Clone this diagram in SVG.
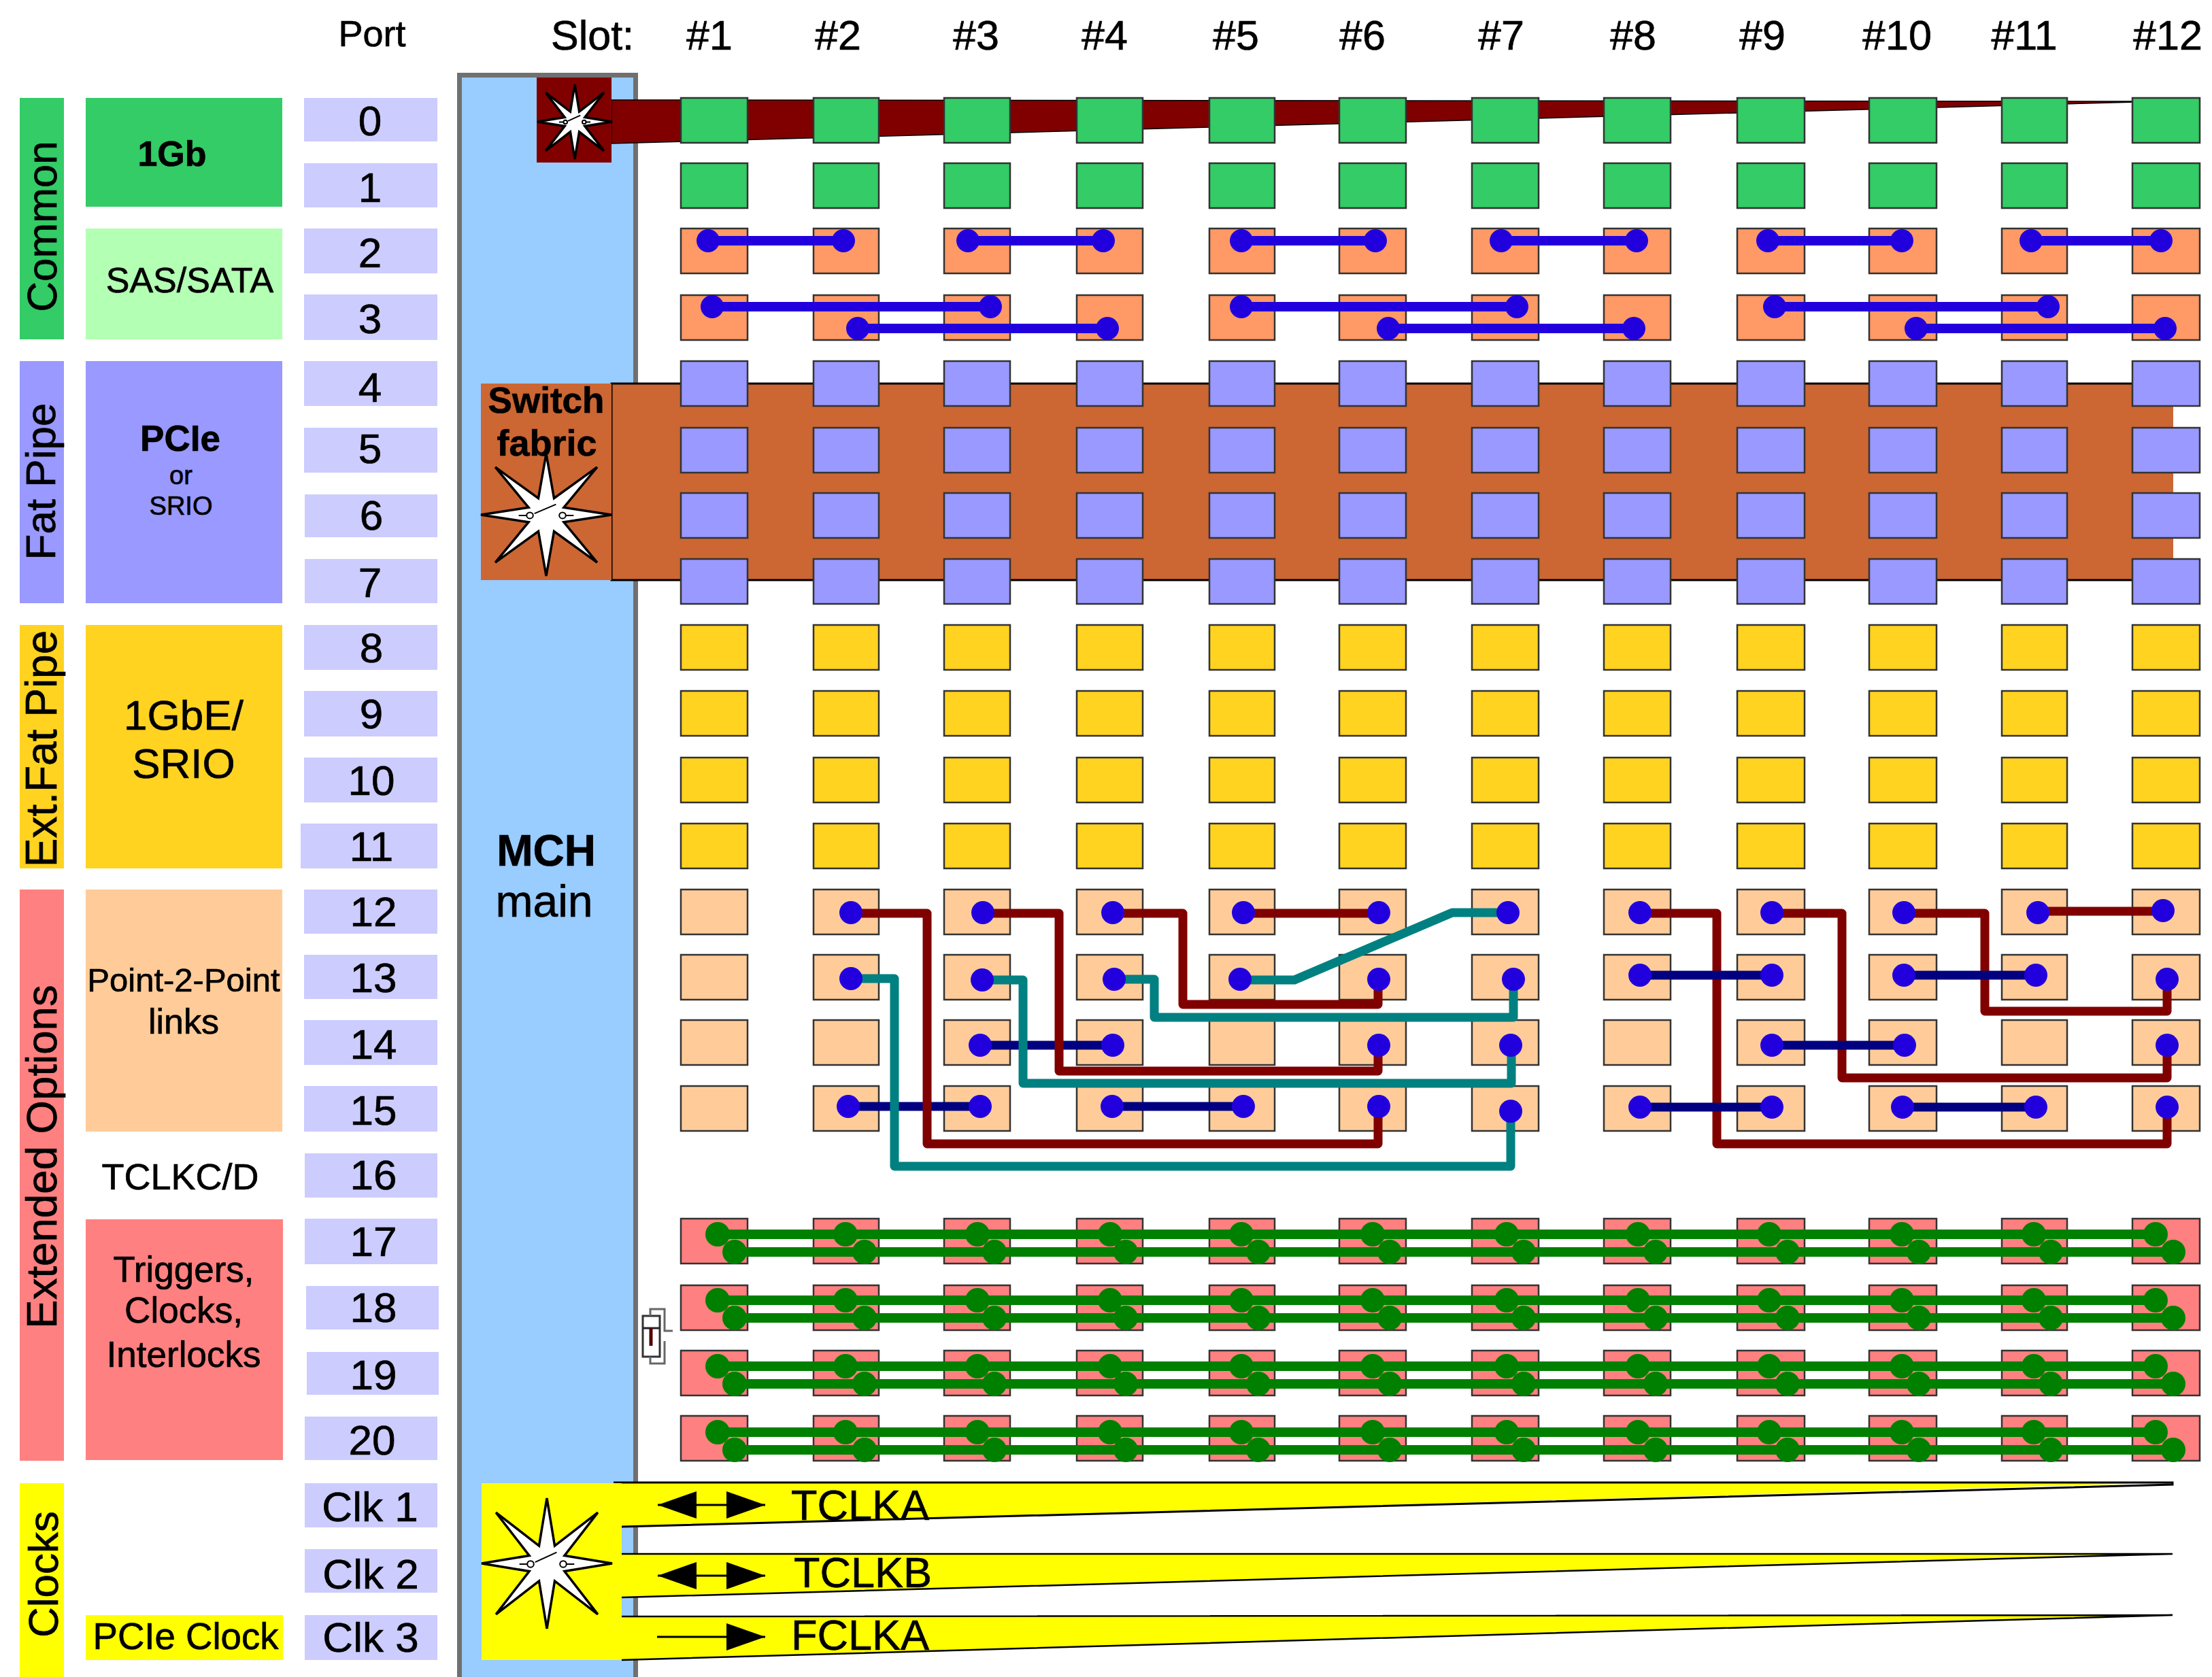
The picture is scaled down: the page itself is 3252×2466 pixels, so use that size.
<svg xmlns="http://www.w3.org/2000/svg" width="3252" height="2466" viewBox="0 0 3252 2466">
<style>
text{font-family:"Liberation Sans",Arial,sans-serif;fill:#000;stroke:#000;stroke-width:.7}
.m{text-anchor:middle}
.b{font-weight:bold}
.p{font-size:62px;text-anchor:middle}
.s{font-size:61px;text-anchor:middle}
.v{font-size:62px;text-anchor:middle}
.port{fill:#ccccff}
.green{fill:#33cc66}.sas{fill:#ff9966}.peri{fill:#9999ff}.gold{fill:#ffd320}.peach{fill:#ffcc99}.pink{fill:#ff8080}
.star{fill:#fff;stroke:#000;stroke-width:3.500;vector-effect:non-scaling-stroke}
.sw{fill:none;stroke:#000;stroke-width:2;vector-effect:non-scaling-stroke}
.w{fill:none;stroke-linejoin:round;stroke-width:13}
.mar{stroke:#800000}.teal{stroke:#008080}.navy{stroke:#000080}.blue{stroke:#2200dd;stroke-width:14}.grn{stroke:#008000;stroke-width:14}
.bd{fill:#2200dd}.gd{fill:#008000}
.edge{fill:none;stroke:#000;stroke-width:3}
.arrow{stroke:#000;stroke-width:3;marker-start:url(#head);marker-end:url(#head)}
.arrow1{stroke:#000;stroke-width:3;marker-end:url(#head)}
</style>
<defs>
<marker id="head" markerUnits="userSpaceOnUse" markerWidth="57" markerHeight="40" refX="57" refY="20" orient="auto-start-reverse"><path d="M0 0L57 20L0 40z" fill="#000"/></marker>
<g id="star">
<polygon class="star" points="100,0 27,-12 78,-78 12,-27 0,-100 -12,-27 -78,-78 -27,-12 -100,0 -27,12 -78,78 -12,27 0,100 12,27 78,78 27,12"/>
<path class="sw" d="M-42 1H-29M-18 -2L15 -17M29 1H42"/>
<circle class="sw" cx="-25" cy="1" r="5"/><circle class="sw" cx="25" cy="1" r="5"/>
</g>
<g id="cells" stroke="#333" stroke-width="2.500">
<rect x="1001" width="98" height="66"/><rect x="1196" width="96" height="66"/><rect x="1388" width="97" height="66"/><rect x="1583" width="97" height="66"/><rect x="1778" width="96" height="66"/><rect x="1969" width="98" height="66"/><rect x="2164" width="98" height="66"/><rect x="2358" width="98" height="66"/><rect x="2554" width="99" height="66"/><rect x="2748" width="99" height="66"/><rect x="2943" width="96" height="66"/><rect x="3135" width="99" height="66"/>
</g>
<g id="gwires">
<path class="w grn" d="M1055 0H3169M1080 26H3195"/>
<g class="gd"><circle cx="1055" r="18"/><circle cx="1243" r="18"/><circle cx="1437" r="18"/><circle cx="1632" r="18"/><circle cx="1825" r="18"/><circle cx="2018" r="18"/><circle cx="2215" r="18"/><circle cx="2408" r="18"/><circle cx="2601" r="18"/><circle cx="2796" r="18"/><circle cx="2990" r="18"/><circle cx="3169" r="18"/>
<circle cx="1080" cy="26" r="18"/><circle cx="1271" cy="26" r="18"/><circle cx="1462" cy="26" r="18"/><circle cx="1655" cy="26" r="18"/><circle cx="1850" cy="26" r="18"/><circle cx="2043" cy="26" r="18"/><circle cx="2240" cy="26" r="18"/><circle cx="2434" cy="26" r="18"/><circle cx="2628" cy="26" r="18"/><circle cx="2821" cy="26" r="18"/><circle cx="3015" cy="26" r="18"/><circle cx="3195" cy="26" r="18"/></g>
</g>
</defs>
<rect width="3252" height="2466" fill="#fff"/>

<g id="header">
<text x="547" y="68" font-size="54" class="m">Port</text>
<text x="871" y="73" font-size="61" class="m">Slot:</text>
<text x="1043" y="73" class="s">#1</text><text x="1232" y="73" class="s">#2</text><text x="1435" y="73" class="s">#3</text><text x="1624" y="73" class="s">#4</text><text x="1817" y="73" class="s">#5</text><text x="2003" y="73" class="s">#6</text><text x="2207" y="73" class="s">#7</text><text x="2401" y="73" class="s">#8</text><text x="2591" y="73" class="s">#9</text><text x="2789" y="73" class="s">#10</text><text x="2976" y="73" class="s">#11</text><text x="3187" y="73" class="s">#12</text>
</g>

<g id="group-common"><rect x="29" y="144" width="65" height="355" class="green"/><text class="v" transform="translate(83 333) rotate(-90)">Common</text></g>
<g id="group-fatpipe"><rect x="29" y="531" width="65" height="356" class="peri"/><text class="v" transform="translate(81 708) rotate(-90)">Fat Pipe</text></g>
<g id="group-extfatpipe"><rect x="29" y="919" width="65" height="358" class="gold"/><text class="v" style="font-size:64px" transform="translate(83 1101) rotate(-90)">Ext.Fat Pipe</text></g>
<g id="group-extended"><rect x="29" y="1308" width="65" height="840" class="pink"/><text class="v" style="font-size:63.6px" transform="translate(83 1701) rotate(-90)">Extended Options</text></g>
<g id="group-clocks"><rect x="29" y="2181" width="65" height="285" fill="#ffff00"/><text class="v" transform="translate(85 2315) rotate(-90)">Clocks</text></g>

<g id="type-1gb"><rect x="126" y="144" width="289" height="160" class="green"/><text x="253" y="244" font-size="52" class="m b">1Gb</text></g>
<g id="type-sas"><rect x="126" y="336" width="289" height="163" fill="#b3ffb3"/><text x="279" y="430" font-size="52" class="m">SAS/SATA</text></g>
<g id="type-pcie"><rect x="126" y="531" width="289" height="356" class="peri"/><text x="265" y="663" font-size="53" class="m b">PCIe</text><text x="266" y="712" font-size="38" class="m">or</text><text x="266" y="757" font-size="38" class="m">SRIO</text></g>
<g id="type-1gbe"><rect x="126" y="919" width="289" height="358" class="gold"/><text x="270" y="1073" font-size="62" class="m">1GbE/</text><text x="270" y="1144" font-size="62" class="m">SRIO</text></g>
<g id="type-p2p"><rect x="126" y="1308" width="289" height="356" class="peach"/><text x="270" y="1458" font-size="49" class="m">Point-2-Point</text><text x="270" y="1520" font-size="52" class="m">links</text></g>
<g id="type-tclkcd"><text x="265" y="1749" font-size="54" class="m">TCLKC/D</text></g>
<g id="type-triggers"><rect x="126" y="1793" width="290" height="354" class="pink"/><text x="270" y="1885" font-size="53" class="m">Triggers,</text><text x="270" y="1945" font-size="53" class="m">Clocks,</text><text x="270" y="2010" font-size="53" class="m">Interlocks</text></g>
<g id="type-pcieclock"><rect x="126" y="2375" width="290" height="66" fill="#ffff00"/><text x="273" y="2425" font-size="54.6" class="m">PCIe Clock</text></g>

<g id="ports">
<rect class="port" x="447" y="144" width="196" height="64"/><text class="p" x="544" y="199">0</text>
<rect class="port" x="447" y="240" width="196" height="65"/><text class="p" x="544" y="297">1</text>
<rect class="port" x="447" y="336" width="196" height="66"/><text class="p" x="544" y="393">2</text>
<rect class="port" x="447" y="433" width="196" height="67"/><text class="p" x="544" y="490">3</text>
<rect class="port" x="447" y="531" width="196" height="66"/><text class="p" x="544" y="591">4</text>
<rect class="port" x="447" y="629" width="196" height="66"/><text class="p" x="544" y="681">5</text>
<rect class="port" x="448" y="727" width="195" height="63"/><text class="p" x="546" y="779">6</text>
<rect class="port" x="448" y="822" width="195" height="65"/><text class="p" x="544" y="878">7</text>
<rect class="port" x="447" y="919" width="196" height="66"/><text class="p" x="546" y="974">8</text>
<rect class="port" x="447" y="1016" width="196" height="67"/><text class="p" x="546" y="1071">9</text>
<rect class="port" x="447" y="1114" width="196" height="66"/><text class="p" x="546" y="1169">10</text>
<rect class="port" x="442" y="1211" width="201" height="66"/><text class="p" x="546" y="1266">11</text>
<rect class="port" x="447" y="1308" width="196" height="65"/><text class="p" x="549" y="1362">12</text>
<rect class="port" x="447" y="1404" width="196" height="65"/><text class="p" x="549" y="1459">13</text>
<rect class="port" x="447" y="1500" width="196" height="66"/><text class="p" x="549" y="1557">14</text>
<rect class="port" x="447" y="1597" width="196" height="67"/><text class="p" x="549" y="1654">15</text>
<rect class="port" x="448" y="1696" width="195" height="65"/><text class="p" x="549" y="1749">16</text>
<rect class="port" x="448" y="1792" width="195" height="67"/><text class="p" x="549" y="1847">17</text>
<rect class="port" x="450" y="1891" width="195" height="64"/><text class="p" x="549" y="1944">18</text>
<rect class="port" x="451" y="1988" width="194" height="63"/><text class="p" x="549" y="2043">19</text>
<rect class="port" x="448" y="2083" width="195" height="64"/><text class="p" x="547" y="2139">20</text>
<rect class="port" x="448" y="2181" width="195" height="65"/><text class="p" x="544" y="2237">Clk 1</text>
<rect class="port" x="448" y="2278" width="195" height="64"/><text class="p" x="545" y="2336">Clk 2</text>
<rect class="port" x="448" y="2375" width="195" height="66"/><text class="p" x="545" y="2429">Clk 3</text>
</g>

<g id="mch">
<path d="M675.500 2480V110.500H934.500V2480" fill="#99ccff" stroke="#707070" stroke-width="7"/>
<text x="803" y="1273" font-size="64" class="m b">MCH</text>
<text x="800" y="1348" font-size="66" class="m">main</text>
</g>

<g id="bus-1gb">
<polygon points="899,147 3180,149 899,211" fill="#800000" stroke="#000" stroke-width="1.500"/>
<rect x="789" y="114" width="110" height="125" fill="#800000"/>
<use href="#star" transform="translate(845 179) scale(.55)"/>
</g>

<g id="switch-fabric">
<rect x="899" y="564" width="2296" height="289" fill="#cc6633"/>
<path d="M3135 564H899V853H3135" class="edge"/>
<rect x="707" y="564" width="192" height="289" fill="#cc6633"/>
<use href="#star" transform="translate(803 757) scale(.96 .9)"/>
<text x="803" y="607" font-size="53" class="m b">Switch</text>
<text x="804" y="670" font-size="54" class="m b">fabric</text>
</g>

<g id="clock-bus">
<polygon points="902,2180 3194,2180 914,2245" fill="#ffff00"/><path d="M902 2180H3194V2183L914 2245" class="edge"/>
<polygon points="914,2285 3194,2285 914,2349" fill="#ffff00"/><path d="M914 2285H3194L914 2349" class="edge" style="stroke-width:2.500"/>
<polygon points="914,2377 3194,2375 914,2441" fill="#ffff00"/><path d="M914 2377L3194 2375L914 2441" class="edge" style="stroke-width:2.500"/>
<rect x="708" y="2181" width="206" height="260" fill="#ffff00"/>
<use href="#star" transform="translate(804 2299) scale(.96)"/>
<line class="arrow" x1="967" y1="2213" x2="1125" y2="2213"/>
<line class="arrow" x1="967" y1="2317" x2="1125" y2="2317"/>
<line class="arrow1" x1="966" y1="2407" x2="1125" y2="2407"/>
<text x="1163" y="2235" font-size="63">TCLKA</text>
<text x="1167" y="2334" font-size="63">TCLKB</text>
<text x="1163" y="2426" font-size="63">FCLKA</text>
</g>

<g id="slot-cells">
<g id="row-0" class="green"><use href="#cells" y="144"/></g>
<g id="row-1" class="green"><use href="#cells" y="240"/></g>
<g id="row-2" class="sas"><use href="#cells" y="336"/></g>
<g id="row-3" class="sas"><use href="#cells" y="434"/></g>
<g id="row-4" class="peri"><use href="#cells" y="531"/></g>
<g id="row-5" class="peri"><use href="#cells" y="629"/></g>
<g id="row-6" class="peri"><use href="#cells" y="725"/></g>
<g id="row-7" class="peri"><use href="#cells" y="822"/></g>
<g id="row-8" class="gold"><use href="#cells" y="919"/></g>
<g id="row-9" class="gold"><use href="#cells" y="1016"/></g>
<g id="row-10" class="gold"><use href="#cells" y="1114"/></g>
<g id="row-11" class="gold"><use href="#cells" y="1211"/></g>
<g id="row-12" class="peach"><use href="#cells" y="1308"/></g>
<g id="row-13" class="peach"><use href="#cells" y="1404"/></g>
<g id="row-14" class="peach"><use href="#cells" y="1500"/></g>
<g id="row-15" class="peach"><use href="#cells" y="1597"/></g>
<g id="row-17" class="pink"><use href="#cells" y="1792"/></g>
<g id="row-18" class="pink"><use href="#cells" y="1890"/></g>
<g id="row-19" class="pink"><use href="#cells" y="1986"/></g>
<g id="row-20" class="pink"><use href="#cells" y="2082"/></g>
</g>

<g id="terminator" fill="none" stroke="#666" stroke-width="3">
<rect x="945" y="1935" width="25" height="60" fill="#fff" stroke="#333"/>
<path d="M956 1935V1925H977V1957H989M977 1972V2005H956V1995"/>
<path d="M945 1953H970" stroke="#223"/>
<path d="M957 1953V1979" stroke="#500" stroke-width="5"/>
</g>

<g id="connectors">
<path class="w blue" d="M1041 354H1240M1423 354H1622M1825 354H2022M2207 354H2406M2599 354H2796M2986 354H3177M1047 451H1456M1825 451H2230M2609 451H3011M1261 483H1628M2041 483H2402M2817 483H3183"/>
<path class="w navy" d="M1441 1537H1636M1247 1627H1441M1635 1627H1828"/>
<path class="w mar" d="M1251 1343H1363V1682H2026V1627M1445 1343H1557V1575H2026V1537M1636 1343H1739V1477H2026V1440M1828 1343H2027M2411 1343H2524V1682H3186V1628M2605 1343H2708V1585H3186V1537M2799 1343H2918V1487H3186V1440M2996 1340H3180"/>
<path class="w teal" d="M1251 1439H1315V1715H2221V1634M1444 1441H1504V1593H2222V1537M1638 1440H1697V1496H2225V1440M1823 1441H1903L2135 1342H2217"/>
<path class="w navy" d="M2411 1434H2605M2799 1434H2993M2605 1537H2800M2411 1628H2605M2797 1628H2993"/>
<g class="bd">
<circle cx="1041" cy="354" r="17"/><circle cx="1240" cy="354" r="17"/><circle cx="1423" cy="354" r="17"/><circle cx="1622" cy="354" r="17"/><circle cx="1825" cy="354" r="17"/><circle cx="2022" cy="354" r="17"/><circle cx="2207" cy="354" r="17"/><circle cx="2406" cy="354" r="17"/><circle cx="2599" cy="354" r="17"/><circle cx="2796" cy="354" r="17"/><circle cx="2986" cy="354" r="17"/><circle cx="3177" cy="354" r="17"/>
<circle cx="1047" cy="451" r="17"/><circle cx="1456" cy="451" r="17"/><circle cx="1825" cy="451" r="17"/><circle cx="2230" cy="451" r="17"/><circle cx="2609" cy="451" r="17"/><circle cx="3011" cy="451" r="17"/>
<circle cx="1261" cy="483" r="17"/><circle cx="1628" cy="483" r="17"/><circle cx="2041" cy="483" r="17"/><circle cx="2402" cy="483" r="17"/><circle cx="2817" cy="483" r="17"/><circle cx="3183" cy="483" r="17"/>
<circle cx="1251" cy="1342" r="17"/><circle cx="1445" cy="1342" r="17"/><circle cx="1636" cy="1342" r="17"/><circle cx="1828" cy="1342" r="17"/><circle cx="2027" cy="1342" r="17"/><circle cx="2217" cy="1342" r="17"/><circle cx="2411" cy="1342" r="17"/><circle cx="2605" cy="1342" r="17"/><circle cx="2799" cy="1342" r="17"/><circle cx="2996" cy="1342" r="17"/><circle cx="3180" cy="1339" r="17"/>
<circle cx="1251" cy="1439" r="17"/><circle cx="1444" cy="1441" r="17"/><circle cx="1638" cy="1440" r="17"/><circle cx="1823" cy="1440" r="17"/><circle cx="2027" cy="1440" r="17"/><circle cx="2225" cy="1440" r="17"/><circle cx="2411" cy="1434" r="17"/><circle cx="2605" cy="1434" r="17"/><circle cx="2799" cy="1434" r="17"/><circle cx="2993" cy="1434" r="17"/><circle cx="3186" cy="1440" r="17"/>
<circle cx="1441" cy="1537" r="17"/><circle cx="1636" cy="1537" r="17"/><circle cx="2027" cy="1537" r="17"/><circle cx="2221" cy="1537" r="17"/><circle cx="2605" cy="1537" r="17"/><circle cx="2800" cy="1537" r="17"/><circle cx="3186" cy="1537" r="17"/>
<circle cx="1247" cy="1627" r="17"/><circle cx="1441" cy="1627" r="17"/><circle cx="1635" cy="1627" r="17"/><circle cx="1828" cy="1627" r="17"/><circle cx="2027" cy="1627" r="17"/><circle cx="2221" cy="1634" r="17"/><circle cx="2411" cy="1628" r="17"/><circle cx="2605" cy="1628" r="17"/><circle cx="2797" cy="1628" r="17"/><circle cx="2993" cy="1628" r="17"/><circle cx="3186" cy="1628" r="17"/>
</g>
<use href="#gwires" y="1815"/><use href="#gwires" y="1912"/><use href="#gwires" y="2009"/><use href="#gwires" y="2106"/>
</g>
</svg>
